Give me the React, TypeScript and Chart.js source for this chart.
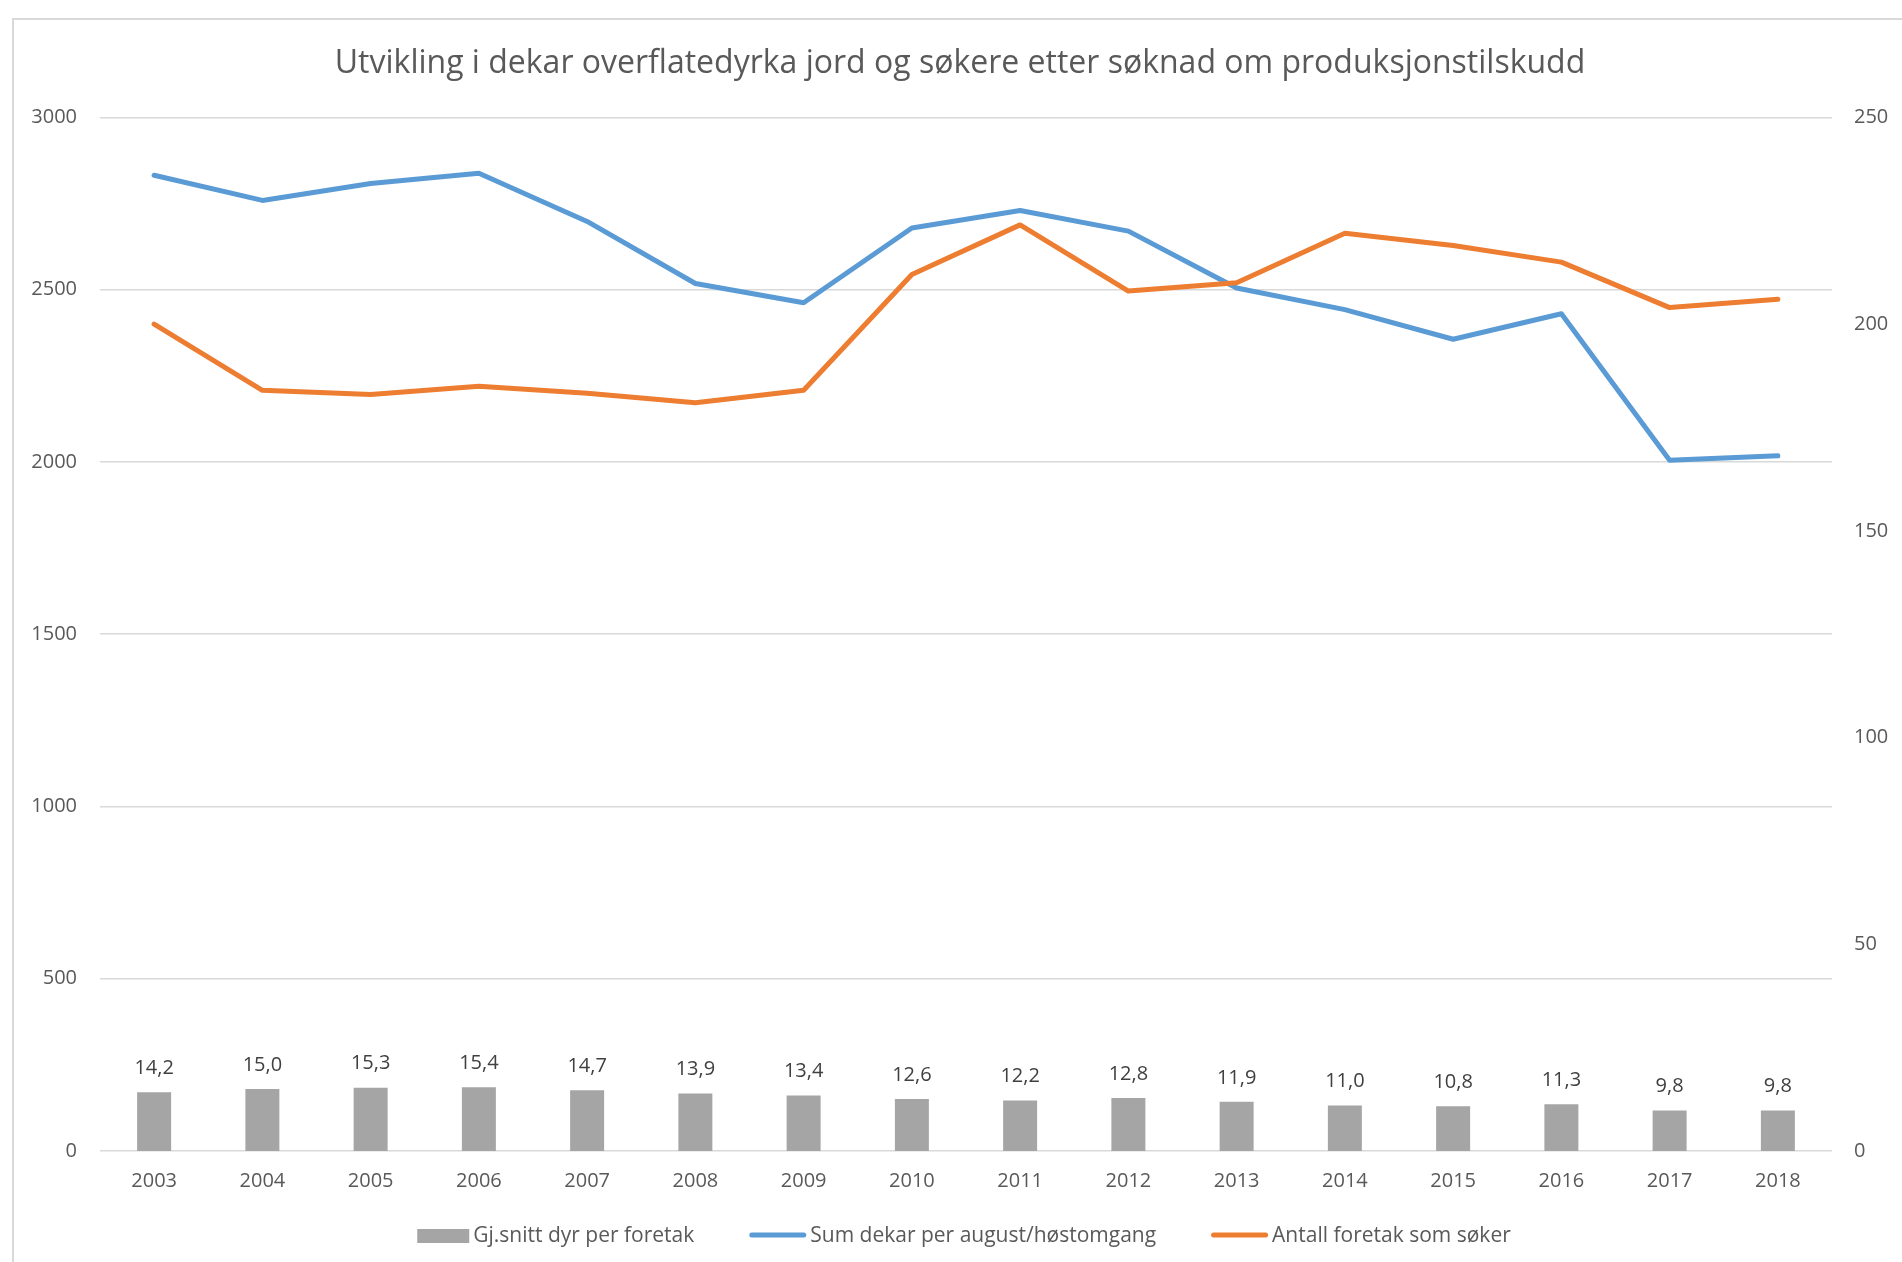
import React, { useEffect, useRef } from 'react';
import { Chart, registerables } from 'chart.js';

Chart.register(...registerables);

// ---- data ----
const categories = ['2003', '2004', '2005', '2006', '2007', '2008', '2009', '2010', '2011', '2012', '2013', '2014', '2015', '2016', '2017', '2018'];
const avgAnimals = [14.2, 15.0, 15.3, 15.4, 14.7, 13.9, 13.4, 12.6, 12.2, 12.8, 11.9, 11.0, 10.8, 11.3, 9.8, 9.8];
const sumDekar = [2832, 2759, 2808, 2838, 2698, 2518, 2462, 2679, 2730, 2670, 2505, 2442, 2356, 2430, 2005, 2018];
const applicants = [200, 184, 183, 185, 183.3, 181, 184, 212, 224, 208, 210, 222, 219, 215, 204, 206];

const seriesLabels = ['Gj.snitt dyr per foretak', 'Sum dekar per august/høstomgang', 'Antall foretak som søker'];
const titleText = 'Utvikling i dekar overflatedyrka jord og søkere etter søknad om produksjonstilskudd';
const leftAxis = { min: 0, max: 3000, step: 500 };
const rightAxis = { min: 0, max: 250, step: 50 };

const FONT = '"Open Sans", sans-serif';
const TEXT = '#595959';

const W = 1892;
const H = 1246;

const dataLabelsPlugin = {
  id: 'barValueLabels',
  afterDatasetsDraw(chart: any) {
    const ctx = chart.ctx;
    chart.data.datasets.forEach((ds: any, i: number) => {
      if (ds.type !== 'bar') return;
      const meta = chart.getDatasetMeta(i);
      ctx.save();
      ctx.font = `20px ${FONT}`;
      ctx.fillStyle = '#404040';
      ctx.textAlign = 'center';
      ctx.textBaseline = 'middle';
      meta.data.forEach((el: any, j: number) => {
        const v = ds.data[j] as number;
        ctx.fillText(v.toFixed(1).replace('.', ','), el.x, el.y - 24);
      });
      ctx.restore();
    });
  },
};

const legendPlugin = {
  id: 'customLegend',
  afterDraw(chart: any) {
    const ctx = chart.ctx;
    ctx.save();
    ctx.font = `21px ${FONT}`;
    const swatchGap = 4;
    const itemGap = 55;
    const items = chart.data.datasets.map((ds: any) => {
      const sw = ds.type === 'bar' ? 52 : 57;
      const tw = ctx.measureText(ds.label).width;
      return { ds, sw, tw, w: sw + swatchGap + tw };
    });
    const total = items.reduce((a: number, it: any) => a + it.w, 0) + itemGap * (items.length - 1);
    const ca = chart.chartArea;
    let x = (ca.left + ca.right) / 2 - total / 2 - 2;
    const cy = 1216;
    items.forEach((it: any) => {
      if (it.ds.type === 'bar') {
        ctx.fillStyle = it.ds.backgroundColor;
        ctx.fillRect(x, cy - 7, it.sw, 14);
      } else {
        ctx.strokeStyle = it.ds.borderColor;
        ctx.lineWidth = 5;
        ctx.lineCap = 'round';
        ctx.beginPath();
        ctx.moveTo(x + 2.5, cy - 1);
        ctx.lineTo(x + it.sw - 2.5, cy - 1);
        ctx.stroke();
      }
      ctx.fillStyle = TEXT;
      ctx.textAlign = 'left';
      ctx.textBaseline = 'middle';
      ctx.fillText(it.ds.label, x + it.sw + swatchGap, cy);
      x += it.w + itemGap;
    });
    ctx.restore();
  },
};

export default function App() {
  const ref = useRef<HTMLCanvasElement>(null);

  useEffect(() => {
    const canvas = ref.current;
    if (!canvas) return;
    const chart = new Chart(canvas, {
      type: 'bar',
      data: {
        labels: categories,
        datasets: [
          {
            type: 'bar',
            label: seriesLabels[0],
            data: avgAnimals,
            backgroundColor: '#a5a5a5',
            yAxisID: 'y1',
            order: 3,
            categoryPercentage: 1,
            barPercentage: 0.314,
          },
          {
            type: 'line',
            label: seriesLabels[1],
            data: sumDekar,
            borderColor: '#5b9bd5',
            backgroundColor: '#5b9bd5',
            borderWidth: 5,
            pointRadius: 0,
            tension: 0,
            fill: false,
            borderJoinStyle: 'round',
            borderCapStyle: 'round',
            yAxisID: 'y',
            order: 2,
          },
          {
            type: 'line',
            label: seriesLabels[2],
            data: applicants,
            borderColor: '#ed7d31',
            backgroundColor: '#ed7d31',
            borderWidth: 5,
            pointRadius: 0,
            tension: 0,
            fill: false,
            borderJoinStyle: 'round',
            borderCapStyle: 'round',
            yAxisID: 'y1',
            order: 1,
          },
        ] as any,
      },
      options: {
        animation: false,
        responsive: false,
        maintainAspectRatio: false,
        devicePixelRatio: 1,
        layout: { padding: { left: 0, right: 0, top: 0, bottom: 55 } },
        plugins: {
          legend: { display: false },
          tooltip: { enabled: false },
          title: {
            display: true,
            text: titleText,
            color: TEXT,
            font: { family: FONT, size: 32, weight: 'normal' },
            padding: { top: 25, bottom: 34 },
          },
        },
        scales: {
          x: {
            offset: true,
            grid: { display: false, drawTicks: false },
            border: { display: false },
            ticks: { color: TEXT, font: { family: FONT, size: 20 }, padding: 18, maxRotation: 0, autoSkip: false },
            afterFit: (s: any) => { s.height = 60; },
          },
          y: {
            position: 'left',
            min: leftAxis.min,
            max: leftAxis.max,
            grid: { color: '#d9d9d9', lineWidth: 1.5, drawTicks: false },
            border: { display: false },
            ticks: {
              stepSize: leftAxis.step,
              color: TEXT,
              font: { family: FONT, size: 20 },
              padding: 23,
              callback: (v: any) => String(v),
            },
            afterFit: (s: any) => { s.width = 86; },
          },
          y1: {
            position: 'right',
            min: rightAxis.min,
            max: rightAxis.max,
            grid: { display: false, drawTicks: false },
            border: { display: false },
            ticks: {
              stepSize: rightAxis.step,
              color: TEXT,
              font: { family: FONT, size: 20 },
              padding: 22,
              callback: (v: any) => String(v),
            },
            afterFit: (s: any) => { s.width = 74; },
          },
        },
      } as any,
      plugins: [dataLabelsPlugin, legendPlugin],
    });
    return () => chart.destroy();
  }, []);

  return (
    <div style={{ position: 'fixed', left: 0, top: 0, width: '100vw', height: '100vh', overflow: 'hidden', background: '#fff' }}>
      <div
        style={{
          position: 'absolute',
          left: 12,
          top: 18,
          width: W + 4,
          height: H + 4,
          border: '2px solid #d9d9d9',
          boxSizing: 'border-box',
          background: '#fff',
        }}
      >
        <canvas ref={ref} width={W} height={H} style={{ display: 'block', width: W, height: H }} />
      </div>
    </div>
  );
}
